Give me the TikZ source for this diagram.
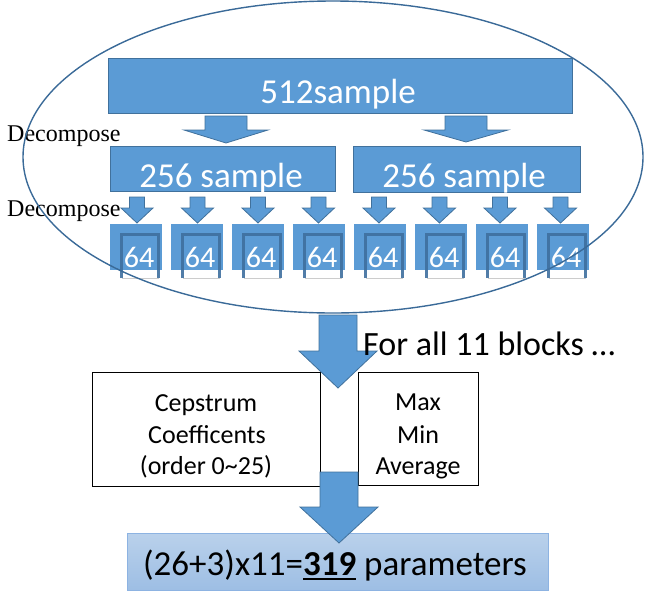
\documentclass[tikz,border=0pt]{standalone}
\usepackage{fontspec}
\setmainfont{Carlito}
\newfontfamily\serifface{Liberation Serif}
\definecolor{blk}{HTML}{5B9BD5}
\definecolor{blkedge}{HTML}{41719C}
\definecolor{ellcol}{HTML}{3A6A98}
\definecolor{framecol}{HTML}{3F6F9E}
\definecolor{btop}{HTML}{BAD1EB}
\definecolor{bbot}{HTML}{9DBEE4}
\definecolor{bedge}{HTML}{8DB3E2}
\newcommand{\thickul}[1]{\vtop{\hbox{#1}\kern3pt\hrule height 2.2pt}}
\tikzset{
  bluebox/.style={draw=blkedge, line width=1pt, fill=blk, inner sep=0pt, outer sep=0pt, anchor=north west},
  sqbox/.style={fill=blk, inner sep=0pt, outer sep=0pt, anchor=north west, minimum width=52pt, minimum height=46pt},
  framebar/.style={draw=framecol, opacity=0.9, line width=3pt},
  arrowshape/.style={fill=blk, draw=blkedge, line width=0.8pt, line join=miter},
  whitetxt/.style={text=white, inner sep=0pt, anchor=base},
  bigtxt/.style={font=\fontsize{35}{35}\selectfont},
  midtxt/.style={font=\fontsize{26}{26}\selectfont},
  decomp/.style={font=\serifface\fontsize{24}{24}\selectfont, inner sep=0pt, anchor=base west},
  wbox/.style={draw=black, line width=1.3pt, fill=white, inner sep=0pt, anchor=north west},
  blacktxt/.style={text=black, inner sep=0pt, anchor=base}
}
\newcommand{\blockarrow}[6]{%
  \draw[arrowshape] ({#1-#5},#2) -- ({#1+#5},#2) -- ({#1+#5},#3) -- ({#1+#6},#3) -- (#1,#4) -- ({#1-#6},#3) -- ({#1-#5},#3) -- cycle;}
\begin{document}
\begin{tikzpicture}[x=1pt,y=-1pt]
\useasboundingbox (0,0) rectangle (650,590);
% 512 box
\node[bluebox, minimum width=464pt, minimum height=55pt] (b512) at (108,58) {};
\node[whitetxt, bigtxt] (t512) at (338,103) {512sample};
% first arrows
\blockarrow{226}{116}{130}{143}{21}{42}
\blockarrow{466}{116}{130}{142}{21}{42}
% 256 boxes
\node[bluebox, minimum width=225pt, minimum height=45pt] (b256a) at (110,146) {};
\node[bluebox, minimum width=227pt, minimum height=46pt] (b256b) at (353,146) {};
\node[whitetxt, bigtxt] (t256a) at (221,187) {256 sample};
\node[whitetxt, bigtxt] (t256b) at (464,187) {256 sample};
% decompose labels
\node[decomp] (d1) at (7,141) {Decompose};
\node[decomp] (d2) at (7,216) {Decompose};
% small arrows and 64 boxes
\foreach \i in {0,...,7} {
  \pgfmathsetmacro\ax{137+60.5*\i}
  \pgfmathsetmacro\bx{110+61*\i}
  \pgfmathsetmacro\fl{121.5+61*\i}
  \pgfmathsetmacro\fr{158.5+61*\i}
  \pgfmathsetmacro\tx{139+61*\i}
  \blockarrow{\ax}{197}{208}{223}{7.5}{16}
  \node[sqbox] (s\i) at (\bx,224) {};
  \fill[white] (\fl,270) rectangle (\fr,278);
  \draw[gray!40, line width=0.6pt] (\fl,278) -- (\fr,278);
  \draw[framebar] (\fl,278) -- (\fl,234.5) -- (\fr,234.5) -- (\fr,278);
  \node[whitetxt, font=\fontsize{30}{30}\selectfont] (n\i) at (\tx,267) {64};
}
% ellipse
\draw[ellcol, line width=1.4pt] (333,157) ellipse [x radius=310, y radius=156];
% lower boxes
\node[wbox, minimum width=228pt, minimum height=114pt] (cep) at (92,372) {};
\node[wbox, minimum width=120pt, minimum height=113pt] (mmx) at (358,372) {};
\node[blacktxt, midtxt] (c1) at (206,411) {Cepstrum};
\node[blacktxt, midtxt] (c2) at (207,443) {Coefficents};
\node[blacktxt, midtxt] (c3) at (206,474) {(order 0\textasciitilde25)};
\node[blacktxt, midtxt] (m1) at (418,410) {Max};
\node[blacktxt, midtxt] (m2) at (418,443) {Min};
\node[blacktxt, midtxt] (m3) at (418,474) {Average};
% arrow 1
\blockarrow{338}{315}{351}{388}{19}{39}
\node[blacktxt, anchor=base west, font=\fontsize{34}{34}\selectfont] (fa) at (363,355) {For all 11 blocks …};
% bottom box
\shade[top color=btop, bottom color=bbot, draw=bedge, line width=0.8pt] (127,533) rectangle (548,590);
\node[blacktxt, bigtxt] (res) at (335,575) {(26+3)x11=\thickul{\textbf{319}} parameters};
% arrow 2
\blockarrow{339}{472}{507}{543}{19}{39}
\end{tikzpicture}
\end{document}
